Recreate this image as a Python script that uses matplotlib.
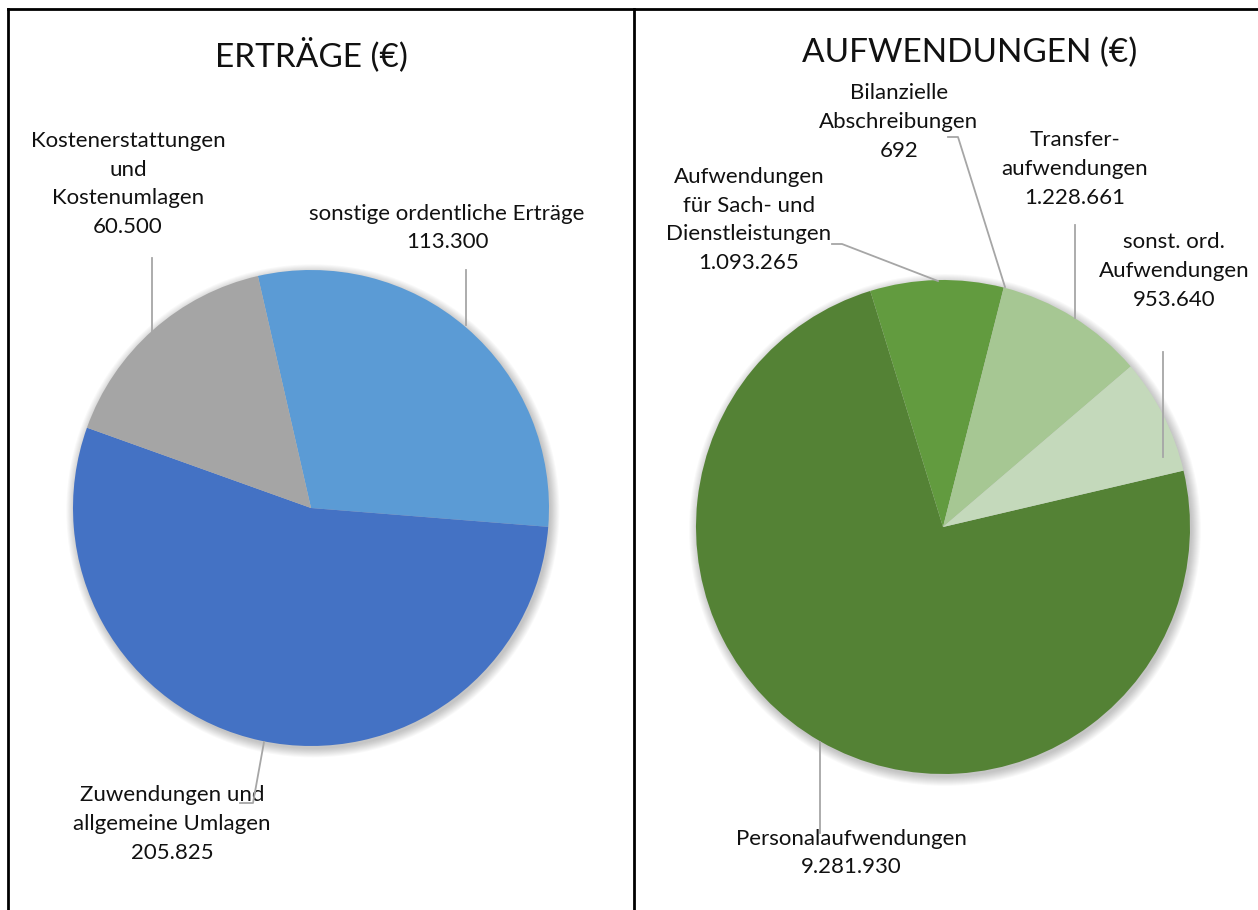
import matplotlib
matplotlib.use('Agg')
import matplotlib.pyplot as plt
from matplotlib.lines import Line2D
from matplotlib.patches import Circle

plt.rcParams['font.family'] = ['Liberation Sans Narrow', 'Lato', 'DejaVu Sans']

W, H = 1258, 910

# ---------------------------
# data
# ---------------------------
ertraege_labels = ['sonstige ordentliche Erträge', 'Zuwendungen und\nallgemeine Umlagen',
                   'Kostenerstattungen\nund\nKostenumlagen']
ertraege_values = [113300, 205825, 60500]
ertraege_colors = ['#5B9BD5', '#4472C4', '#A5A5A5']

aufw_labels = ['Personalaufwendungen', 'Aufwendungen\nfür Sach- und\nDienstleistungen',
               'Bilanzielle\nAbschreibungen', 'Transfer-\naufwendungen',
               'sonst. ord.\nAufwendungen']
aufw_values = [9281930, 1093265, 692, 1228661, 953640]
aufw_colors = ['#548235', '#629B3F', '#629B3F', '#A6C793', '#C4D9BB']


def fmt(v):
    return f'{v:,}'.replace(',', '.')


def pie_axes(cx, cy, r):
    ax = fig.add_axes([(cx - r) / W, (H - cy - r) / H, 2 * r / W, 2 * r / H])
    ax.set_xlim(-1, 1)
    ax.set_ylim(-1, 1)
    ax.set_aspect('equal')
    ax.axis('off')
    # soft shadow like the office chart
    for k in range(10):
        ax.add_patch(Circle((0.008, -0.012), 1.0 + 0.004 * k, color='black',
                            alpha=0.025, lw=0, zorder=0, clip_on=False))
    return ax


def to_data(px, py, cx, cy, r):
    return (px - cx) / r, (cy - py) / r


fig = plt.figure(figsize=(W / 100, H / 100), dpi=100)

# ---------------------------
# left pie: Erträge
# ---------------------------
lcx, lcy, lr = 311, 508, 238
ax1 = pie_axes(lcx, lcy, lr)
ax1.pie(ertraege_values, colors=ertraege_colors, startangle=102.9, counterclock=False,
        radius=1.0, wedgeprops=dict(linewidth=0, zorder=2), frame=False)
ax1.set_xlim(-1, 1)
ax1.set_ylim(-1, 1)

left_label_pos = [(447, 228), (172, 824), (128, 184)]
left_leaders = [[(466, 270), (466, 325)],
                [(264, 742), (253, 803), (240, 803)],
                [(152, 258), (152, 332)]]
for lab, val, pos, lead in zip(ertraege_labels, ertraege_values, left_label_pos, left_leaders):
    x, y = to_data(pos[0], pos[1], lcx, lcy, lr)
    ax1.text(x, y, lab + '\n' + fmt(val), ha='center', va='center', fontsize=16,
             linespacing=1.55, color='#111111', clip_on=False)
    pts = [to_data(p[0], p[1], lcx, lcy, lr) for p in lead]
    ax1.plot([p[0] for p in pts], [p[1] for p in pts], color='#A6A6A6', lw=1.3,
             clip_on=False, zorder=3)

# ---------------------------
# right pie: Aufwendungen
# ---------------------------
rcx, rcy, rr = 943, 527, 247
ax2 = pie_axes(rcx, rcy, rr)
ax2.pie(aufw_values, colors=aufw_colors, startangle=13.2, counterclock=False,
        radius=1.0, wedgeprops=dict(linewidth=0, zorder=2), frame=False)
ax2.set_xlim(-1, 1)
ax2.set_ylim(-1, 1)

right_label_pos = [(851, 853), (749, 220), (899, 122), (1075, 169), (1174, 271)]
right_leaders = [[(820, 742), (820, 833)],
                 [(832, 244), (842, 244), (938, 281)],
                 [(948, 137), (958, 137), (1005, 287)],
                 [(1075, 225), (1075, 318)],
                 [(1163, 352), (1163, 457)]]
for lab, val, pos, lead in zip(aufw_labels, aufw_values, right_label_pos, right_leaders):
    x, y = to_data(pos[0], pos[1], rcx, rcy, rr)
    ax2.text(x, y, lab + '\n' + fmt(val), ha='center', va='center', fontsize=16,
             linespacing=1.55, color='#111111', clip_on=False)
    pts = [to_data(p[0], p[1], rcx, rcy, rr) for p in lead]
    ax2.plot([p[0] for p in pts], [p[1] for p in pts], color='#A6A6A6', lw=1.3,
             clip_on=False, zorder=3)

# ---------------------------
# titles and frame lines
# ---------------------------
fig.text(311 / W, 1 - 55 / H, 'ERTRÄGE (€)', ha='center', va='center', fontsize=24, color='#111111')
fig.text(970 / W, 1 - 53 / H, 'AUFWENDUNGEN (€)', ha='center', va='center', fontsize=24, color='#111111')

frame = [((8, 8), (9, H)), ((8, W), (9, 9)), ((634, 634), (9, H))]
for xs, ys in frame:
    fig.add_artist(Line2D([x / W for x in xs], [1 - y / H for y in ys], color='black', lw=2))

fig.savefig('out.png', dpi=100)
